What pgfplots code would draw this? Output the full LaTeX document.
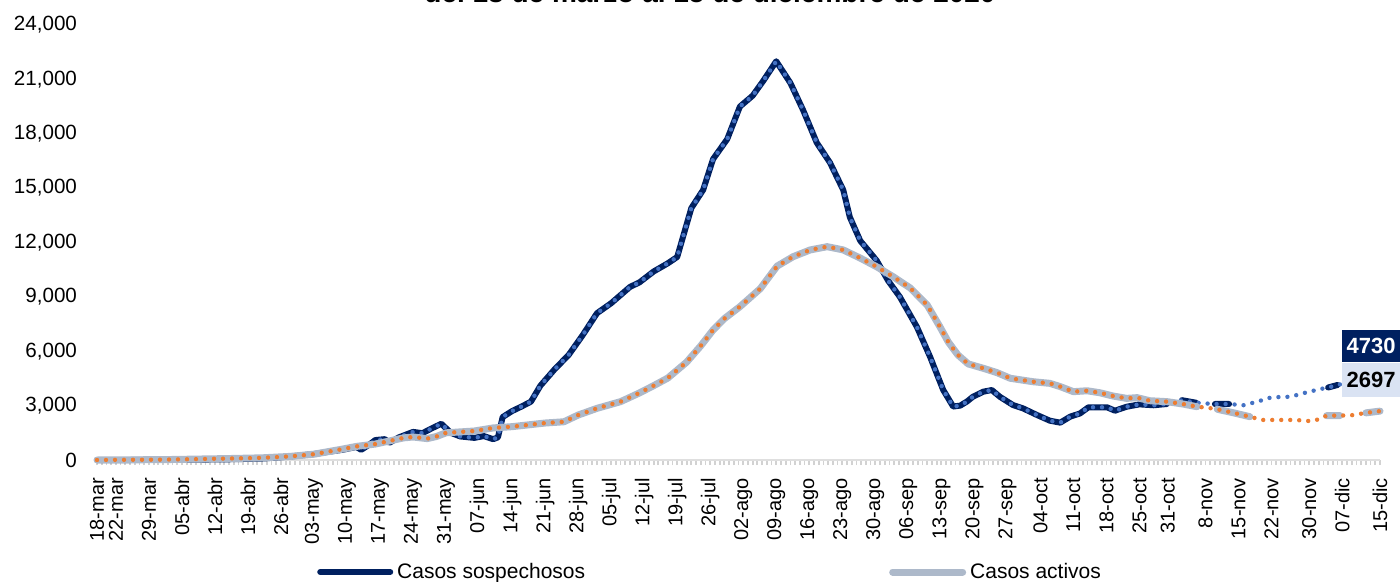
\documentclass[border=0pt]{standalone}
\usepackage{pgfplots}
\usepackage{pgfplotstable}
\pgfplotsset{compat=1.18}
\usepackage{fontspec}
\setmainfont{Liberation Sans}

\definecolor{navy}{HTML}{002060}
\definecolor{dotblue}{HTML}{4472C4}
\definecolor{activegray}{HTML}{ADB9CA}
\definecolor{dotorange}{HTML}{ED7D31}
\definecolor{boxlight}{HTML}{DAE3F3}

% day (0 = 18-mar), full series, solid part (nan = gap)
\pgfplotstableread{
d v vs
0 0 0
7 0 0
14 10 10
21 20 20
28 40 40
35 80 80
39 150 150
42 220 220
46 330 330
49 450 450
52 560 560
55 720 720
56 560 560
58 900 900
59 1100 1100
61 1150 1150
62 950 950
64 1250 1250
67 1550 1550
69 1480 1480
71 1750 1750
73 2000 2000
75 1500 1500
77 1300 1300
80 1220 1220
82 1320 1320
84 1150 1150
85 1250 1250
86 2370 2370
88 2700 2700
90 2950 2950
92 3220 3220
94 4100 4100
97 5000 5000
100 5800 5800
103 6900 6900
106 8100 8100
109 8650 8650
111 9100 9100
113 9550 9550
115 9800 9800
118 10400 10400
121 10850 10850
123 11200 11200
126 13900 13900
128.5 14900 14900
130.6 16600 16600
133.6 17700 17700
136.3 19500 19500
139 20100 20100
141.2 20900 20900
144 22000 22000
147 20800 20800
149.7 19300 19300
152.6 17500 17500
155.4 16400 16400
158.2 14900 14900
159.6 13400 13400
161.8 12100 12100
165.3 11000 11000
167.7 9900 9900
170.2 9000 9000
173.8 7350 7350
176.6 5700 5700
179.4 3860 3860
181.5 2950 2950
183 3000 3000
184.4 3220 3220
185.7 3490 3490
187.9 3770 3770
189.7 3860 3860
191.4 3490 3490
194.2 3030 3030
196.3 2850 2850
199.3 2480 2480
202 2170 2170
204.2 2060 2060
206.3 2390 2390
208.4 2570 2570
210.2 2910 2910
214.1 2910 2910
215.8 2720 2720
218.3 2940 2940
221 3070 3070
224 3020 3020
226.8 3090 3090
228.5 3200 nan
230 3300 3300
233 3160 3160
235 3120 nan
237 3090 3090
240 3090 3090
243 3020 nan
246 3220 nan
249 3460 nan
253 3490 nan
257 3770 nan
260 3950 nan
261 4000 4000
263 4140 4140
268 4450 nan
272 4730 nan
}\sospechosos

\pgfplotstableread{
d v vs
0 0 0
14 20 20
28 80 80
35 120 120
41 200 200
46 320 320
52 600 600
55 750 750
59 880 880
62 1050 1050
65 1220 1220
67 1270 1270
70 1180 1180
72 1300 1300
74 1500 1500
77 1550 1550
80 1600 1600
84 1770 1770
88 1840 1840
95 2040 2040
99 2110 2110
102 2480 2480
106 2850 2850
111 3220 3220
115 3700 3700
118 4100 4100
121 4520 4520
125 5400 5400
128 6300 6300
130.6 7170 7170
133 7800 7800
136.3 8460 8460
140.6 9450 9450
144.2 10700 10700
147.6 11220 11220
151.2 11590 11590
154.8 11770 11770
158.2 11590 11590
161.8 11140 11140
165.3 10660 10660
168.8 10110 10110
172.4 9490 9490
176 8550 8550
178.7 7350 7350
180.5 6500 6500
182.5 5800 5800
184.7 5300 5300
187.9 5060 5060
190.8 4820 4820
193.6 4510 4510
198.4 4320 4320
202 4230 4230
204.2 4050 4050
207 3770 3770
209.9 3820 3820
212.6 3710 3710
215.4 3530 3530
218.3 3400 3400
220.5 3440 3440
223.2 3270 3270
226.8 3220 3220
230.2 3090 3090
233.2 2940 2940
235.5 2880 nan
237.5 2800 2800
241 2600 2600
244.4 2390 2390
247 2210 nan
250 2210 nan
254 2210 nan
257 2150 nan
259 2240 nan
260.7 2450 2450
263.5 2450 2450
266 2470 nan
269 2600 2600
272 2697 2697
}\activos

\begin{document}
\begin{tikzpicture}
% title, only its lower edge is inside the page
\node[anchor=base, font=\bfseries\fontsize{14}{16}\selectfont] at (355pt,-1.2pt)
  {del 18 de marzo al 15 de diciembre de 2020};

\begin{axis}[
    at={(48.5pt,-230pt)}, anchor=south west,
    scale only axis, width=641.5pt, height=217.5pt,
    xmin=0, xmax=272, ymin=0, ymax=24000,
    clip=false,
    axis x line*=bottom, axis y line*=left,
    y axis line style={draw=none},
    x axis line style={draw=gray!25, line width=1.2pt},
    tick align=outside,
    major tick length=0pt,
    minor tick length=2.6pt,
    minor xtick={0,...,272},
    minor x tick style={draw=gray!35, line width=0.9pt},
    ytick={0,3000,...,24000},
    scaled y ticks=false,
    yticklabel shift=6.5pt,
    xticklabel shift=5.5pt,
    yticklabel style={font=\fontsize{10.3}{12}\selectfont,
        /pgf/number format/assume math mode=true,
        /pgf/number format/1000 sep={,}},
    xtick={0,4,11,18,25,32,39,46,53,60,67,74,81,88,95,102,109,116,123,130,137,144,151,158,165,172,179,186,193,200,207,214,221,227,235,242,249,257,264,272},
    xticklabels={18-mar,22-mar,29-mar,05-abr,12-abr,19-abr,26-abr,03-may,10-may,17-may,24-may,31-may,07-jun,14-jun,21-jun,28-jun,05-jul,12-jul,19-jul,26-jul,02-ago,09-ago,16-ago,23-ago,30-ago,06-sep,13-sep,20-sep,27-sep,04-oct,11-oct,18-oct,25-oct,31-oct,8-nov,15-nov,22-nov,30-nov,07-dic,15-dic},
    xticklabel style={rotate=90, anchor=east, font=\fontsize{10}{12}\selectfont},
    unbounded coords=jump,
    legend columns=2,
    legend style={draw=none, fill=none, at={(0.4786,-0.2575)}, anchor=center,
        font=\fontsize{10.5}{12}\selectfont,
        /tikz/every even column/.append style={column sep=150pt}},
    legend image code/.code={\draw[#1] (0pt,0pt) -- (35pt,0pt);},
]
\addplot[navy, line width=3pt, line join=round, line cap=round]
    table[x=d, y=vs] {\sospechosos};
\addlegendentry{Casos sospechosos}
\addplot[forget plot, dotblue, line width=2.2pt, line cap=round,
    dash pattern=on 0pt off 4.5pt] table[x=d, y=v] {\sospechosos};
\addplot[activegray, line width=3.5pt, line join=round, line cap=round]
    table[x=d, y=vs] {\activos};
\addlegendentry{Casos activos}
\addplot[forget plot, dotorange, line width=2.2pt, line cap=round,
    dash pattern=on 0pt off 4.5pt] table[x=d, y=v] {\activos};

\node[fill=navy, text=white, font=\bfseries\fontsize{11}{12}\selectfont,
    minimum width=29pt, minimum height=16pt, inner sep=0pt]
    at (axis cs:270.1,6290) {4730};
\node[fill=boxlight, text=black, font=\bfseries\fontsize{11}{12}\selectfont,
    minimum width=29pt, minimum height=17pt, inner sep=0pt]
    at (axis cs:270.1,4414) {2697};
\end{axis}

\pgfresetboundingbox
\useasboundingbox (0pt,0pt) rectangle (700pt,-291pt);
\end{tikzpicture}
\end{document}
